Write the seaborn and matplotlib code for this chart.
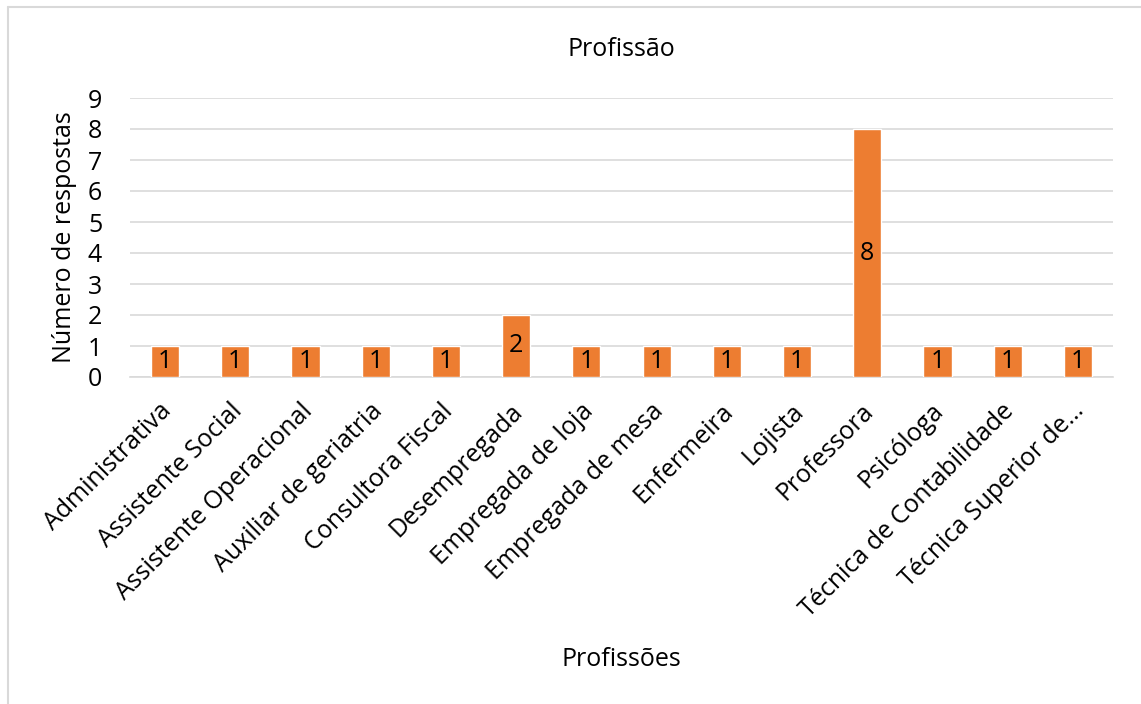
import pandas as pd
import matplotlib.pyplot as plt
import matplotlib.transforms as mtransforms
import seaborn as sns

profissoes = ["Administrativa", "Assistente Social", "Assistente Operacional",
              "Auxiliar de geriatria", "Consultora Fiscal", "Desempregada",
              "Empregada de loja", "Empregada de mesa", "Enfermeira", "Lojista",
              "Professora", "Psicóloga", "Técnica de Contabilidade",
              "Técnica Superior de…"]
respostas = [1, 1, 1, 1, 1, 2, 1, 1, 1, 1, 8, 1, 1, 1]

df = pd.DataFrame({"prof": profissoes, "n": respostas})

sns.set_style("white")
plt.rcParams['font.family'] = ['Open Sans', 'DejaVu Sans']
plt.rcParams['text.color'] = 'black'
plt.rcParams['axes.labelcolor'] = 'black'

fig = plt.figure(figsize=(11.41, 7.04), dpi=100)
ax = fig.add_axes([130 / 1141, 1 - 377 / 704, (1113 - 130) / 1141, 279 / 704])

sns.barplot(data=df, x="prof", y="n", color="#ED7D31", width=0.4, ax=ax,
            saturation=1, zorder=3)

for i, v in enumerate(respostas):
    ax.text(i, v / 2, str(v), ha="center", va="center", fontsize=18, color="black", zorder=4)

ax.set_ylim(0, 9)
ax.set_yticks(range(0, 10))
ax.set_xlim(-0.5, len(profissoes) - 0.5)
ax.yaxis.grid(True, color="#d9d9d9", linewidth=1.2, zorder=0)
for s in ["top", "right", "left"]:
    ax.spines[s].set_visible(False)
ax.spines["bottom"].set_color("#d9d9d9")
ax.spines["bottom"].set_linewidth(1.2)
ax.tick_params(axis="both", length=0, labelsize=18, colors="black")
ax.tick_params(axis="y", pad=20)
ax.tick_params(axis="x", pad=4)
ax.set_xticks(range(len(profissoes)))
ax.set_xticklabels(profissoes, rotation=45, ha="right", rotation_mode="anchor", fontsize=18)
offset = mtransforms.ScaledTranslation(-6 / 100, -16 / 100, fig.dpi_scale_trans)
for lab in ax.get_xticklabels():
    lab.set_transform(lab.get_transform() + offset)

ax.set_title("Profissão", fontsize=18, pad=30)
ax.set_ylabel("Número de respostas", fontsize=18, labelpad=8)
ax.set_xlabel("Profissões", fontsize=18)
ax.xaxis.label.set_va("center")
ax.xaxis.set_label_coords(0.5, -(660 - 377) / 279)

fig.add_artist(plt.Line2D([8 / 1141, 8 / 1141], [0, 1 - 7 / 704], color="#d9d9d9", linewidth=1.5))
fig.add_artist(plt.Line2D([8 / 1141, 1], [1 - 7 / 704, 1 - 7 / 704], color="#d9d9d9", linewidth=1.5))

fig.savefig("out.png", dpi=100)
